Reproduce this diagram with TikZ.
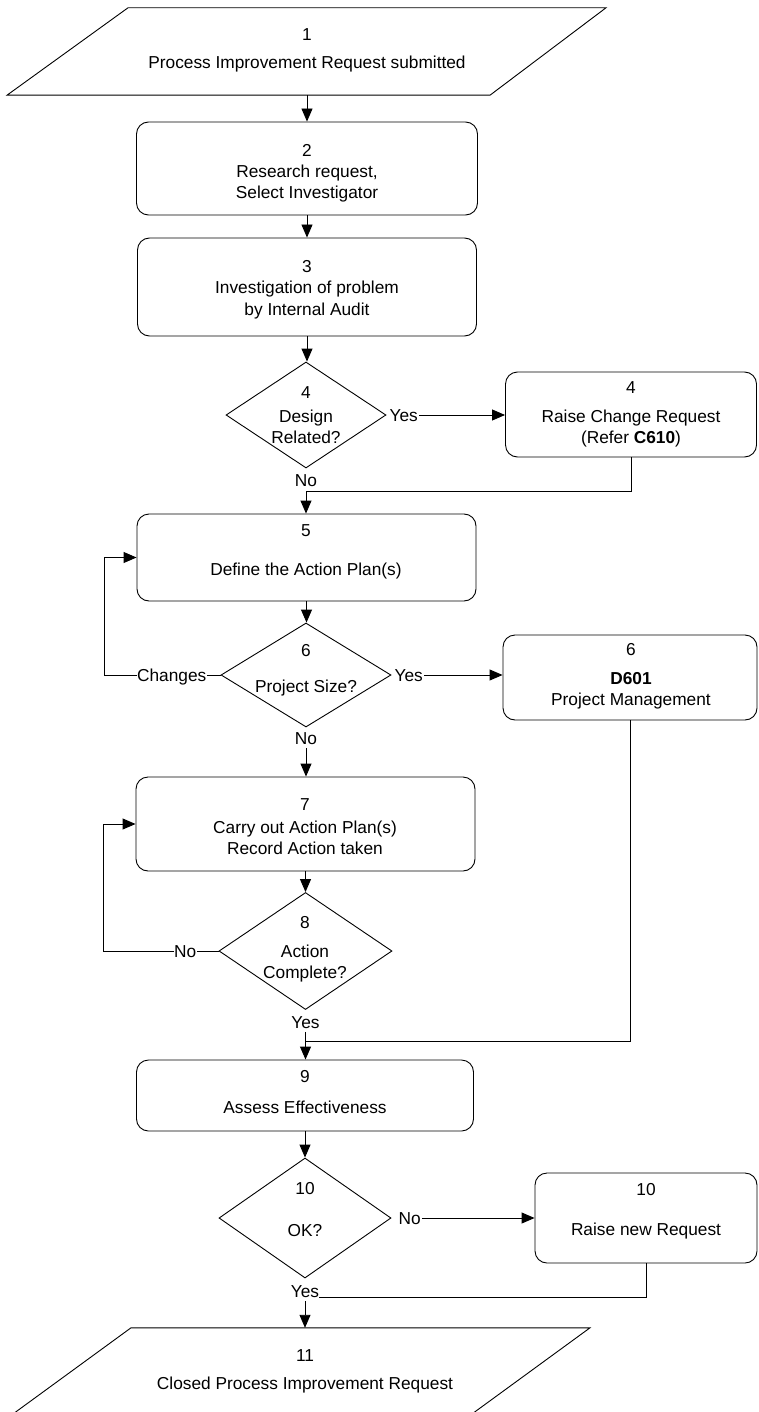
\documentclass[tikz,border=0pt]{standalone}
\usepackage{fontspec}
\setmainfont{Liberation Sans}
\usetikzlibrary{shapes.geometric,arrows.meta,calc}
\begin{document}
\begin{tikzpicture}[x=1pt,y=-1pt,
  lw/.style={line width=0.9pt},
  box/.style={lw, draw, rectangle, rounded corners=12pt, inner sep=0pt},
  dia/.style={lw, draw, diamond, inner sep=0pt},
  anchorbox/.style={draw=none, inner sep=0pt, minimum width=0pt},
  txt/.style={inner sep=0pt, text height=12.4pt, text depth=0pt, font=\fontsize{17.3}{21}\selectfont},
  arr/.style={lw, -{Triangle[length=13pt,width=11pt]}},
  ln/.style={lw}]
\useasboundingbox (0,0) rectangle (758,1412);
\clip (0,0) rectangle (758,1412);

% ---------- shapes ----------
\node[anchorbox, minimum height=87pt] (p1) at (307,51.5) {};
\draw[lw] ($(p1.north)+(-179,0)$) -- ($(p1.north)+(299,0)$) -- ($(p1.south)+(183,0)$) -- ($(p1.south)+(-300,0)$) -- cycle;

\node[box, minimum width=341pt, minimum height=93pt] (b2) at (307,168.5) {};
\node[box, minimum width=339pt, minimum height=98pt] (b3) at (307,287) {};
\node[dia, minimum width=160pt, minimum height=106pt] (d4) at (306,415) {};
\node[box, minimum width=251pt, minimum height=85pt] (b4r) at (631,414.5) {};
\node[box, minimum width=339pt, minimum height=87pt] (b5) at (306.5,557.5) {};
\node[dia, minimum width=170pt, minimum height=104pt] (d6) at (306,675) {};
\node[box, minimum width=254pt, minimum height=85pt] (b6r) at (630,677.5) {};
\node[box, minimum width=339pt, minimum height=94pt] (b7) at (305.5,824) {};
\node[dia, minimum width=173pt, minimum height=117pt] (d8) at (305.5,951) {};
\node[box, minimum width=337pt, minimum height=71pt] (b9) at (305,1095.5) {};
\node[dia, minimum width=172pt, minimum height=120pt] (d10) at (305,1218) {};
\node[box, minimum width=222pt, minimum height=90pt] (b10r) at (646,1218) {};
\node[anchorbox, minimum height=84pt] (p11) at (305,1370) {};
\draw[lw] ($(p11.north)+(-174,0)$) -- ($(p11.north)+(285,0)$) -- ($(p11.north)+(148,100)$) -- ($(p11.north)+(-311,100)$) -- cycle;

% ---------- texts ----------
\node[txt] (t1a) at (307,34) {1};
\node[txt] (t1b) at (307,62) {Process Improvement Request submitted};
\node[txt] (t2a) at (307,150) {2};
\node[txt] (t2b) at (307,171) {Research request,};
\node[txt] (t2c) at (307,192) {Select Investigator};
\node[txt] (t3a) at (307,266) {3};
\node[txt] (t3b) at (307,287) {Investigation of problem};
\node[txt] (t3c) at (307,309) {by Internal Audit};
\node[txt] (t4a) at (306,392) {4};
\node[txt] (t4b) at (306,416) {Design};
\node[txt] (t4c) at (306,437) {Related?};
\node[txt] (t4d) at (631,387) {4};
\node[txt] (t4e) at (631,416) {Raise Change Request};
\node[txt] (t4f) at (631,437) {(Refer \textbf{C610})};
\node[txt] (t5a) at (306,530) {5};
\node[txt] (t5b) at (306,569) {Define the Action Plan(s)};
\node[txt] (t6a) at (306,650) {6};
\node[txt] (t6b) at (306,686) {Project Size?};
\node[txt] (t6c) at (631,649) {6};
\node[txt] (t6d) at (631,678) {\textbf{D601}};
\node[txt] (t6e) at (631,699) {Project Management};
\node[txt] (t7a) at (305,804) {7};
\node[txt] (t7b) at (305,827) {Carry out Action Plan(s)};
\node[txt] (t7c) at (305,848) {Record Action taken};
\node[txt] (t8a) at (305,922) {8};
\node[txt] (t8b) at (305,951) {Action};
\node[txt] (t8c) at (305,972) {Complete?};
\node[txt] (t9a) at (305,1076) {9};
\node[txt] (t9b) at (305,1107) {Assess Effectiveness};
\node[txt] (t10a) at (305,1188) {10};
\node[txt] (t10b) at (305,1230) {OK?};
\node[txt] (t10c) at (646,1189) {10};
\node[txt] (t10d) at (646,1229) {Raise new Request};
\node[txt] (t11a) at (305,1355) {11};
\node[txt] (t11b) at (305,1383) {Closed Process Improvement Request};

% ---------- connector labels ----------
\node[txt, anchor=west] (yes4) at ([xshift=3pt]d4.east) {Yes};
\node[txt, anchor=north] (no4) at ([yshift=-5pt]d4.south) {No};
\node[txt, anchor=east] (chg) at ([xshift=-14pt]d6.west) {Changes};
\node[txt, anchor=west] (yes6) at ([xshift=3pt]d6.east) {Yes};
\node[txt, anchor=north] (no6) at ([yshift=-4pt]d6.south) {No};
\node[txt, anchor=east] (no8) at ([xshift=-22pt]d8.west) {No};
\node[txt, anchor=north] (yes8) at ([yshift=-6pt]d8.south) {Yes};
\node[txt, anchor=west] (no10) at ([xshift=7pt]d10.east) {No};
\node[txt, anchor=north] (yes10) at ([yshift=-6pt]d10.south) {Yes};

\coordinate (m4) at (306,491);
\coordinate (lp5) at (104,675);
\coordinate (lp7) at (103,951);
\coordinate (m9) at (305.5,1041);

% ---------- connectors ----------
\draw[arr] (p1.south) -- (b2.north);
\draw[arr] (b2.south) -- (b3.north -| b2.south);
\draw[arr] (b3.south) -- (d4.north -| b3.south);
\draw[arr] ([xshift=1pt]yes4.east) -- (yes4.east -| b4r.west);
\draw[ln] (b4r.south) |- (m4);
\draw[arr] (m4) -- (b5.north -| m4);
\draw[arr] (b5.south) -- (d6.north -| b5.south);
\draw[ln] (d6.west) -- (chg.east);
\draw[arr] (chg.west) -- (lp5) |- (b5.west);
\draw[arr] ([xshift=1pt]yes6.east) -- (yes6.east -| b6r.west);
\draw[arr] ([yshift=-4pt]no6.south) -- (b7.north -| no6.south);
\draw[arr] (b7.south) -- (d8.north -| b7.south);
\draw[ln] (d8.west) -- (no8.east);
\draw[arr] (no8.west) -- (lp7) |- (b7.west);
\draw[ln] (b6r.south) |- (m9);
\draw[arr] ([yshift=-3pt]yes8.south) -- (b9.north -| yes8.south);
\draw[arr] (b9.south) -- (d10.north -| b9.south);
\draw[arr] ([xshift=1pt]no10.east) -- (no10.east -| b10r.west);
\draw[ln] (b10r.south) |- (yes10.base east);
\draw[arr] ([yshift=-4pt]yes10.south) -- (p11.north -| yes10.south);
\end{tikzpicture}
\end{document}
